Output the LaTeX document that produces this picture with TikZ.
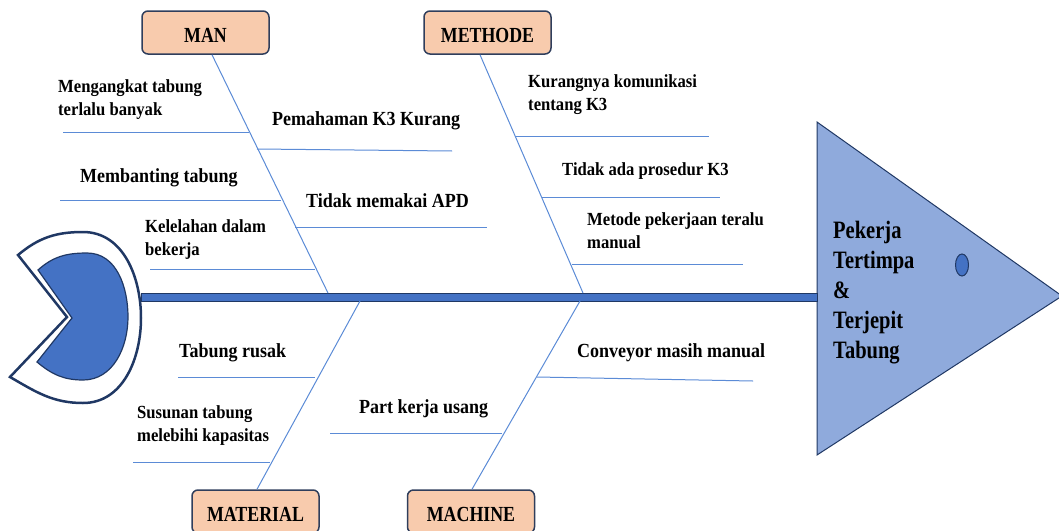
\documentclass[tikz,border=0pt]{standalone}
\usepackage{fontspec}
\usetikzlibrary{shapes.geometric}
\setmainfont{Liberation Serif}
\newfontfamily\catf{Liberation Serif Bold}[FakeStretch=0.83]
\newfontfamily\labf{Liberation Serif Bold}[FakeStretch=0.9]
\newfontfamily\headf{Liberation Serif Bold}[FakeStretch=0.82]
\definecolor{spineblue}{HTML}{4472C4}
\definecolor{navy}{HTML}{203864}
\definecolor{headblue}{HTML}{8FAADC}
\definecolor{boxfill}{HTML}{F8CBAD}
\definecolor{boxline}{HTML}{2F3E5C}
\definecolor{bonecol}{HTML}{5B8BD6}
\tikzset{
  catbox/.style={draw=boxline, fill=boxfill, rounded corners=6pt, line width=1.5pt,
    minimum width=127pt, minimum height=43pt, inner sep=0pt, text height=19.3pt, text depth=0pt,
    font=\catf\fontsize{21.5}{24}\selectfont},
  bone/.style={draw=bonecol, line width=1pt},
  big/.style={anchor=base west, inner sep=0pt, font=\labf\fontsize{20}{23.5}\selectfont},
  small/.style={anchor=base west, inner sep=0pt, align=left, font=\labf\fontsize{18.5}{23.5}\selectfont},
}
\begin{document}
\begin{tikzpicture}[x=1pt,y=-1pt]
\useasboundingbox (0,0) rectangle (1059,530);
\clip (0,0) rectangle (1059,530);

% head
\draw[fill=headblue, draw=navy, line width=1pt] (817,122) -- (1062,296) -- (817,455) -- cycle;
\node[anchor=base west, inner sep=0pt, align=left, font=\headf\fontsize{25}{30}\selectfont] (effect) at (833,358) {Pekerja\\Tertimpa\\\&\\Terjepit\\Tabung};
\node[draw=navy, fill=spineblue, ellipse, line width=1pt, minimum width=13pt, minimum height=22pt, inner sep=0pt] (eye) at (962,265) {};

% spine
\draw[fill=spineblue, draw=navy, line width=1pt] (141,293) rectangle (817,301);

% tail
\draw[draw=navy, line width=2.5pt, fill=white, line join=miter]
  (18,255) to[out=40,in=180] (83,232) to[out=0,in=90] (141,318)
  to[out=-90,in=0] (83,403) to[out=180,in=-30] (10,377) -- (67,317) -- cycle;
\draw[draw=navy, line width=1.2pt, fill=spineblue]
  (38,270) to[out=42,in=180] (87,253) to[out=0,in=90] (128,317)
  to[out=-90,in=0] (83,380) to[out=180,in=-40] (37,362) -- (72,318) -- cycle;

% category boxes
\node[catbox] (man) at (205.5,32.5) {MAN};
\node[catbox] (methode) at (487.5,32.5) {METHODE};
\node[catbox] (material) at (255.5,511.5) {MATERIAL};
\node[catbox] (machine) at (471,511.5) {MACHINE};

% spine joints
\coordinate (jman) at (328,293);
\coordinate (jmet) at (583,293);
\coordinate (jmat) at (360,301);
\coordinate (jmac) at (580,301);

% main bones
\draw[bone] ([xshift=6.5pt]man.south) -- (jman);
\draw[bone] ([xshift=-7.5pt]methode.south) -- (jmet);
\draw[bone] ([xshift=1.5pt]material.north) -- (jmat);
\draw[bone] ([xshift=1pt]machine.north) -- (jmac);

% sub bones
\draw[bone] (63,132) -- (249,132);
\draw[bone] (60,200) -- (281,200);
\draw[bone] (150,269) -- (315,269);
\draw[bone] (257,149) -- (452,151);
\draw[bone] (295,227) -- (487,227);
\draw[bone] (515,136) -- (709,136);
\draw[bone] (542,197) -- (720,197);
\draw[bone] (572,264) -- (743,264);
\draw[bone] (178,377) -- (315,377);
\draw[bone] (133,462) -- (270,462);
\draw[bone] (330,433) -- (502,433);
\draw[bone] (537,377) -- (753,381);

% labels (multi-line nodes anchored at the baseline of their last line)
\node[small] (t1) at (58,115.5) {Mengangkat tabung\\terlalu banyak};
\node[big] (t2) at (272,125) {Pemahaman K3 Kurang};
\node[big] (t3) at (80,182) {Membanting tabung};
\node[big] (t4) at (306,207) {Tidak memakai APD};
\node[small] (t5) at (145,255.5) {Kelelahan dalam\\bekerja};
\node[small] (t6) at (528,110.5) {Kurangnya komunikasi\\tentang K3};
\node[small] (t7) at (562,175) {Tidak ada prosedur K3};
\node[small] (t8) at (587,248.5) {Metode pekerjaan teralu\\manual};
\node[big] (t9) at (179,357) {Tabung rusak};
\node[small] (t10) at (137,441.5) {Susunan tabung\\melebihi kapasitas};
\node[big] (t11) at (359,413) {Part kerja usang};
\node[big] (t12) at (577,357) {Conveyor masih manual};
\end{tikzpicture}
\end{document}
